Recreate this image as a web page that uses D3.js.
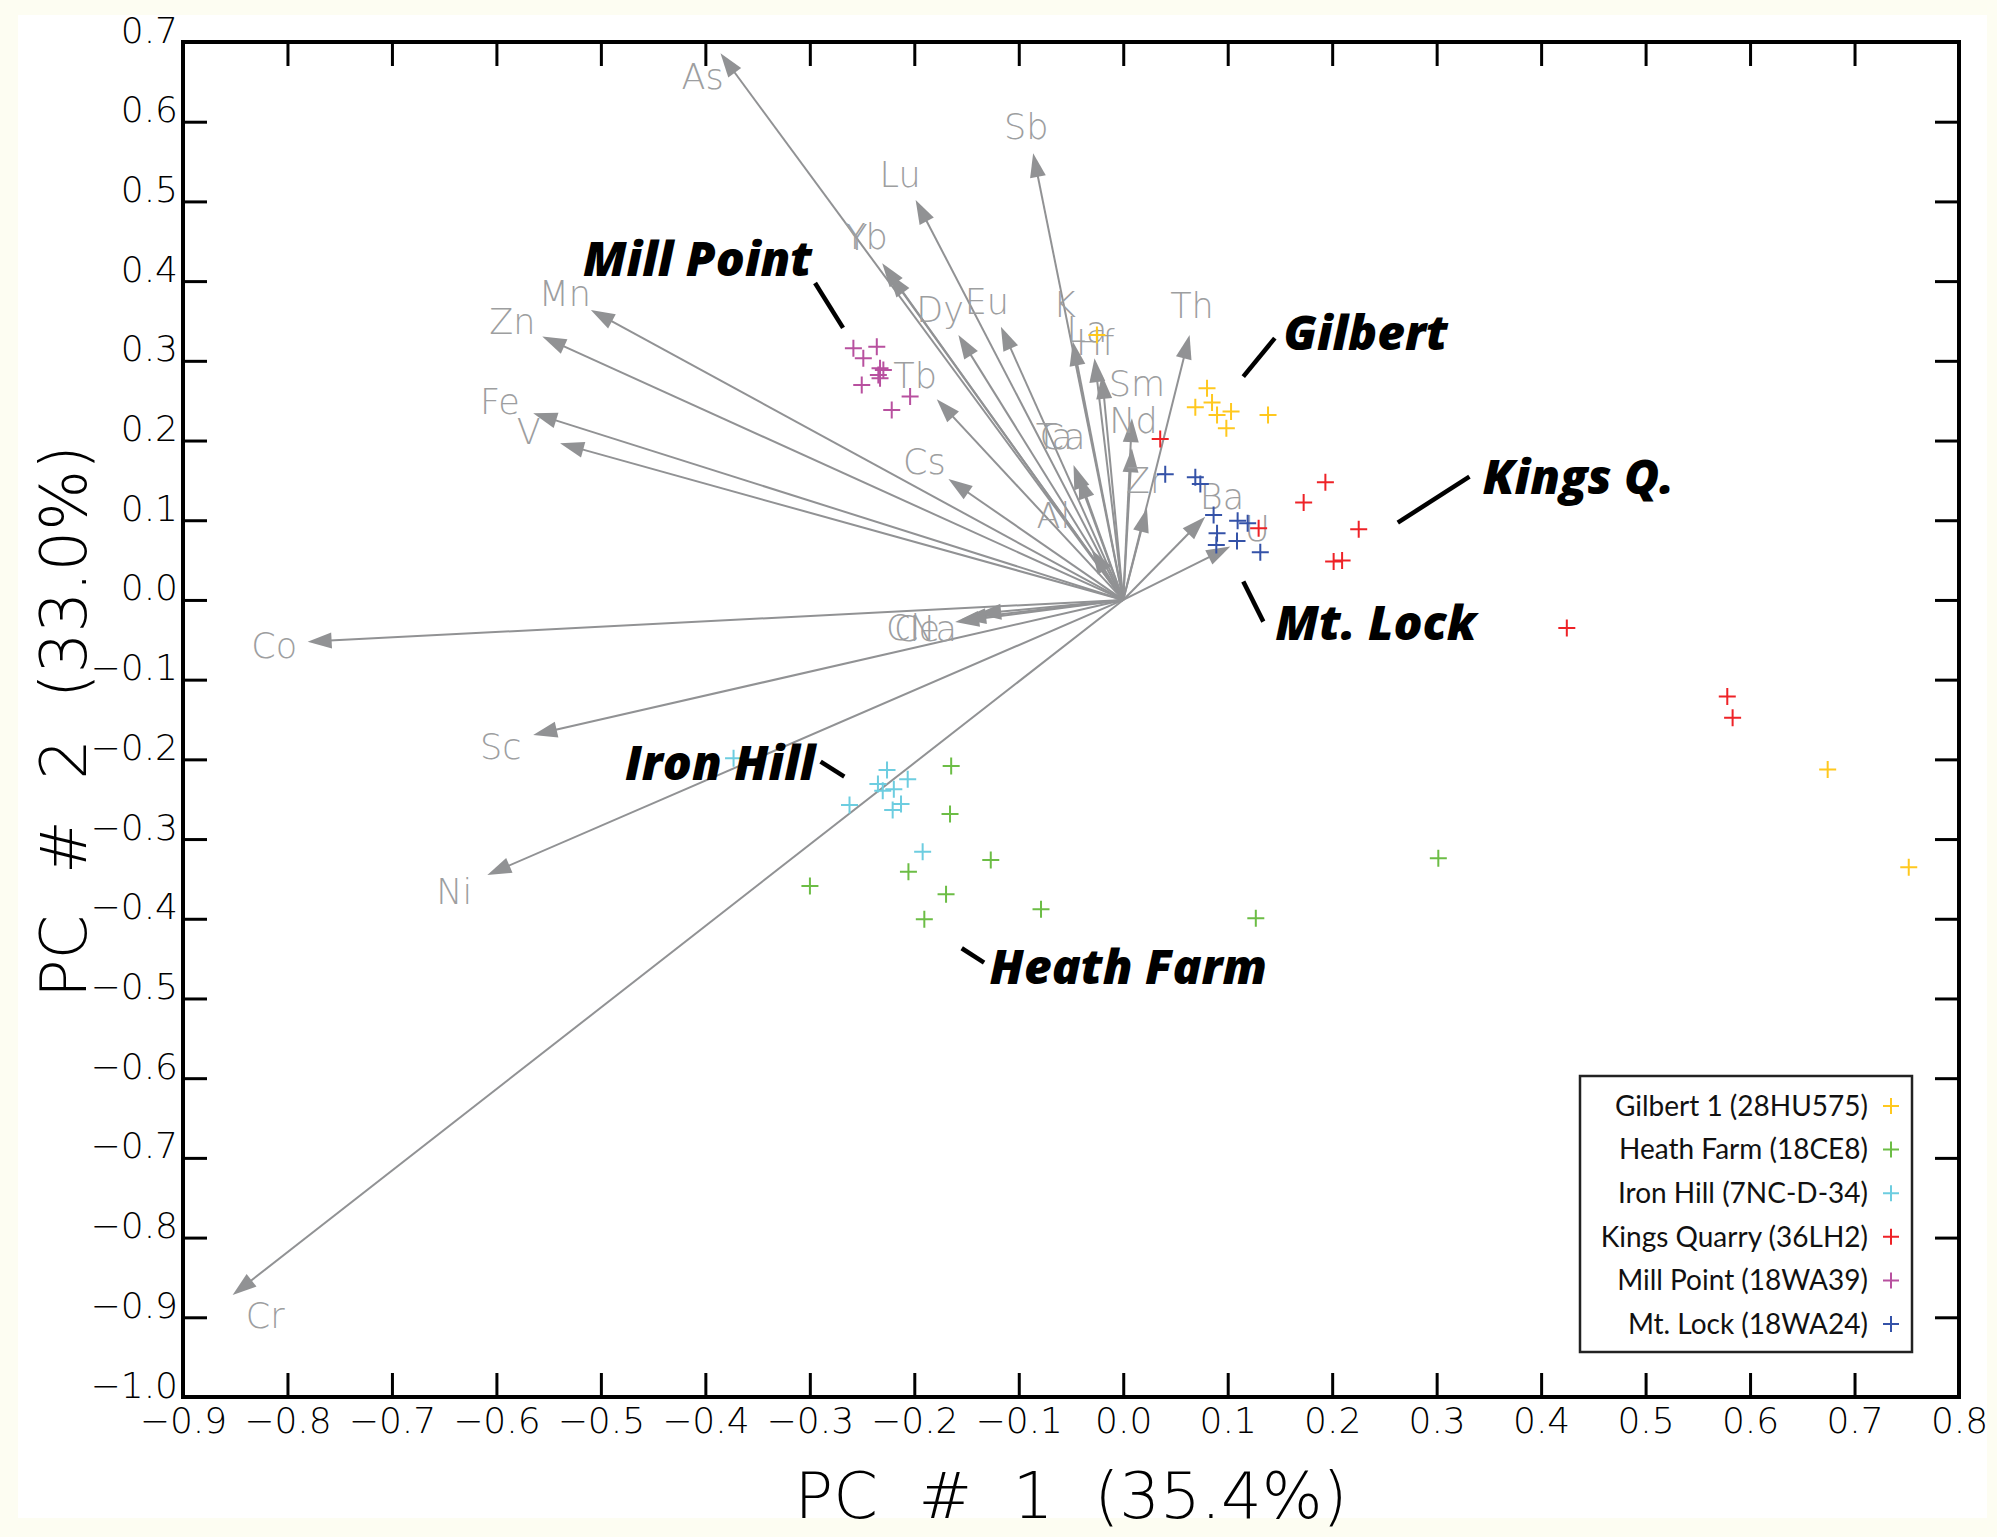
<!DOCTYPE html>
<html><head><meta charset="utf-8">
<script src="https://cdn.jsdelivr.net/npm/d3@7"></script>
<style>
html,body{margin:0;padding:0;background:#fdfdf2;}
svg{display:block;}
</style></head><body>
<svg id="chart" width="1997" height="1537"></svg>
<script>
// ---------------- DATA ----------------
const xTicks = [-0.9,-0.8,-0.7,-0.6,-0.5,-0.4,-0.3,-0.2,-0.1,0.0,0.1,0.2,0.3,0.4,0.5,0.6,0.7,0.8];
const yTicks = [0.7,0.6,0.5,0.4,0.3,0.2,0.1,0.0,-0.1,-0.2,-0.3,-0.4,-0.5,-0.6,-0.7,-0.8,-0.9,-1.0];
const xTitle = "PC  #  1  (35.4%)";
const yTitle = "PC  #  2  (33.0%)";

const siteNames = ["Gilbert 1 (28HU575)","Heath Farm (18CE8)","Iron Hill (7NC-D-34)","Kings Quarry (36LH2)","Mill Point (18WA39)","Mt. Lock (18WA24)"];

const gilbertPC1 = [0.0802,0.0690,0.0850,0.0898,0.1032,0.0987,0.1386,-0.0252,0.6743,0.7519];
const gilbertPC2 = [0.2656,0.2418,0.2476,0.2321,0.2363,0.2154,0.2321,0.3325,-0.2127,-0.3354];
const heathPC1 = [-0.1647,-0.1658,-0.1268,-0.2056,-0.2999,-0.1696,-0.0787,-0.1904,0.1269,0.3016];
const heathPC2 = [-0.2083,-0.2685,-0.3262,-0.3409,-0.3588,-0.3693,-0.3881,-0.4006,-0.3994,-0.3242];
const ironPC1 = [-0.3730,-0.2261,-0.2063,-0.2348,-0.2196,-0.2302,-0.2620,-0.2127,-0.2207,-0.1920];
const ironPC2 = [-0.1986,-0.2133,-0.2250,-0.2309,-0.2375,-0.2393,-0.2572,-0.2560,-0.2635,-0.3158];
const kingsPC1 = [0.0354,0.1935,0.1727,0.2254,0.1296,0.2014,0.2095,0.4246,0.5782,0.5833];
const kingsPC2 = [0.2020,0.1476,0.1221,0.0887,0.0900,0.0481,0.0494,-0.0353,-0.1213,-0.1478];
const millPC1 = [-0.2583,-0.2359,-0.2488,-0.2328,-0.2296,-0.2344,-0.2328,-0.2503,-0.2040,-0.2216];
const millPC2 = [0.3158,0.3178,0.3033,0.2907,0.2886,0.2823,0.2782,0.2698,0.2551,0.2384];
const lockPC1 = [0.0402,0.0690,0.0738,0.0865,0.1095,0.1191,0.0898,0.1089,0.0891,0.1312];
const lockPC2 = [0.1577,0.1539,0.1455,0.1066,0.0995,0.0962,0.0837,0.0740,0.0690,0.0598];

const elements = ["As","Sb","Lu","Yb","Y","Dy","Eu","K","La","Hf","Sm","Nd","Zr","Th","Ta","Ca","Al","Ba","U","Cs","Tb","Mn","Zn","Fe","V","Co","Sc","Ni","Cr","Cl","Ce","Na"];
const loadPC1 = [-0.3855,-0.0862,-0.1987,-0.2307,-0.2243,-0.1578,-0.1171,-0.0482,-0.0275,-0.0204,0.0083,0.0083,0.0227,0.0635,-0.0476,-0.0428,-0.0300,0.0785,0.1025,-0.1673,-0.1785,-0.5096,-0.5561,-0.5648,-0.5391,-0.7807,-0.5648,-0.6087,-0.8525,-0.1609,-0.1542,-0.1398];
const loadPC2 = [0.6858,0.5605,0.5019,0.4225,0.4099,0.3325,0.3429,0.3241,0.3033,0.2823,0.2280,0.1903,0.1151,0.3325,0.1694,0.1568,0.0627,0.1045,0.0669,0.1518,0.2518,0.3639,0.3304,0.2343,0.1966,-0.0523,-0.1694,-0.3450,-0.8720,-0.0276,-0.0238,-0.0176];

// ---------------- LAYOUT (label placement, in data units) ----------------
const labelPlace = {
  As:[-0.4026,0.6568], Sb:[-0.0929,0.5947], Lu:[-0.2136,0.5333], Yb:[-0.2462,0.4558], Y:[-0.2550,0.4548],
  Dy:[-0.1753,0.3639], Eu:[-0.1306,0.3743], K:[-0.0562,0.3714], La:[-0.0348,0.3388], Hf:[-0.0268,0.3225],
  Sm:[0.0131,0.2719], Nd:[0.0099,0.2258], Zr:[0.0211,0.1506], Th:[0.0658,0.3701], Ta:[-0.0661,0.2049],
  Ca:[-0.0581,0.2049], Al:[-0.0668,0.1066], Ba:[0.0945,0.1305], U:[0.1281,0.0900], Cs:[-0.1903,0.1735],
  Tb:[-0.1992,0.2823], Mn:[-0.5345,0.3848], Zn:[-0.5848,0.3492], Fe:[-0.5967,0.2488], V:[-0.5690,0.2112],
  Co:[-0.8127,-0.0565], Sc:[-0.5959,-0.1841], Ni:[-0.6404,-0.3660], Cr:[-0.8213,-0.8971],
  Cl:[-0.2107,-0.0339], Ce:[-0.1973,-0.0351], Na:[-0.1820,-0.0351]
};
const annotations = [
  {text:"Mill Point", at:[-0.5172,0.4065], leader:[[-0.2950,0.3977],[-0.2682,0.3413]]},
  {text:"Gilbert",    at:[0.1533,0.3137],   leader:[[0.1149,0.2802],[0.1451,0.3284]]},
  {text:"Kings Q.",   at:[0.3439,0.1330],   leader:[[0.2628,0.0970],[0.3314,0.1547]]},
  {text:"Mt. Lock",   at:[0.1456,-0.0502],  leader:[[0.1149,0.0230],[0.1341,-0.0272]]},
  {text:"Iron Hill",  at:[-0.4770,-0.2258], leader:[[-0.2897,-0.2029],[-0.2670,-0.2217]]},
  {text:"Heath Farm", at:[-0.1279,-0.4818], leader:[[-0.1546,-0.4370],[-0.1332,-0.4551]]}
];
const siteColors = ["#ffc81e","#6cbd45","#6dcde0","#ee2227","#b8509f","#3452a8"];

// ---------------- DRAW ----------------
const svg = d3.select("#chart");
svg.append("rect").attr("x",18).attr("y",15).attr("width",1969).attr("height",1503).attr("fill","#ffffff");

const x = d3.scaleLinear().domain([-0.9,0.8]).range([183,1959]);
const y = d3.scaleLinear().domain([-1.0,0.7]).range([1397,42]);
const fmt = d3.format(".1f");
const tickFont = "'DejaVu Sans', sans-serif";

function styleAxis(g){
  g.select(".domain").remove();
  g.attr("font-family", tickFont).attr("font-size", 36).attr("font-weight", 300);
  g.selectAll(".tick line").attr("stroke","#000").attr("stroke-width",3);
  g.selectAll(".tick text").attr("fill","#000");
}
const gB = svg.append("g").attr("transform",`translate(0,${y(-1.0)})`)
  .call(d3.axisBottom(x).tickValues(xTicks).tickFormat(fmt).tickSizeInner(-24).tickSizeOuter(0).tickPadding(10));
styleAxis(gB);
const gT = svg.append("g").attr("transform",`translate(0,${y(0.7)})`)
  .call(d3.axisTop(x).tickValues(xTicks).tickFormat(()=>"").tickSizeInner(-24).tickSizeOuter(0));
styleAxis(gT);
const gL = svg.append("g").attr("transform",`translate(${x(-0.9)},0)`)
  .call(d3.axisLeft(y).tickValues(yTicks).tickFormat(fmt).tickSizeInner(-24).tickSizeOuter(0).tickPadding(5));
styleAxis(gL);
gL.selectAll(".tick text").attr("dy","0");
const gR = svg.append("g").attr("transform",`translate(${x(0.8)},0)`)
  .call(d3.axisRight(y).tickValues(yTicks).tickFormat(()=>"").tickSizeInner(-24).tickSizeOuter(0));
styleAxis(gR);

// frame
svg.append("rect").attr("x",x(-0.9)).attr("y",y(0.7))
  .attr("width",x(0.8)-x(-0.9)).attr("height",y(-1.0)-y(0.7))
  .attr("fill","none").attr("stroke","#000").attr("stroke-width",4);

// axis titles
svg.append("text").attr("x",1071).attr("y",1518)
  .attr("text-anchor","middle").attr("font-family",tickFont).attr("font-weight",300)
  .attr("font-size",64).attr("fill","#000").style("white-space","pre").text(xTitle);
svg.append("text").attr("transform",`translate(86,${(y(0.7)+y(-1.0))/2 + 2}) rotate(-90)`)
  .attr("text-anchor","middle").attr("font-family",tickFont).attr("font-weight",300)
  .attr("font-size",64).attr("fill","#000").style("white-space","pre").text(yTitle);

// loadings arrows
const loadings = elements.map((e,i)=>({name:e, pc1:loadPC1[i], pc2:loadPC2[i]}));
const arrowG = svg.append("g");
const ox = x(0), oy = y(0);
const headL = 24, headW = 8;
loadings.forEach(d=>{
  const tx = x(d.pc1), ty = y(d.pc2);
  const dx = tx-ox, dy = ty-oy, len = Math.hypot(dx,dy);
  const ux = dx/len, uy = dy/len;
  const bx = tx-ux*headL, by = ty-uy*headL;
  arrowG.append("line").attr("x1",ox).attr("y1",oy).attr("x2",bx+ux*2).attr("y2",by+uy*2)
    .attr("stroke","#919294").attr("stroke-width",2);
  arrowG.append("path")
    .attr("d",`M${tx},${ty}L${bx - uy*headW},${by + ux*headW}L${bx + uy*headW},${by - ux*headW}Z`)
    .attr("fill","#919294");
});
const labG = svg.append("g").attr("font-family",tickFont).attr("font-weight",300)
  .attr("font-size",35).attr("fill","#9d9ea0").attr("text-anchor","middle");
loadings.forEach(d=>{
  const p = labelPlace[d.name];
  labG.append("text").attr("x",x(p[0])).attr("y",y(p[1])).attr("dy","0.36em").text(d.name);
});

// sample points
const series = [
  [gilbertPC1,gilbertPC2],[heathPC1,heathPC2],[ironPC1,ironPC2],
  [kingsPC1,kingsPC2],[millPC1,millPC2],[lockPC1,lockPC2]
];
const plus = (cx,cy,s)=>`M${cx-s},${cy}H${cx+s}M${cx},${cy-s}V${cy+s}`;
const ptG = svg.append("g");
series.forEach((s,k)=>{
  s[0].forEach((v,i)=>{
    ptG.append("path").attr("d",plus(x(v),y(s[1][i]),8.5))
      .attr("stroke",siteColors[k]).attr("stroke-width",2).attr("fill","none");
  });
});

// annotations
const annG = svg.append("g").attr("font-family","'Open Sans', Lato, sans-serif")
  .attr("font-weight",800).attr("font-style","italic").attr("font-size",48).attr("fill","#000");
annotations.forEach(a=>{
  annG.append("text").attr("x",x(a.at[0])).attr("y",y(a.at[1])).text(a.text);
  annG.append("line").attr("x1",x(a.leader[0][0])).attr("y1",y(a.leader[0][1]))
    .attr("x2",x(a.leader[1][0])).attr("y2",y(a.leader[1][1]))
    .attr("stroke","#000").attr("stroke-width",4.5);
});

// legend
const lg = svg.append("g");
lg.append("rect").attr("x",1580).attr("y",1076).attr("width",332).attr("height",276)
  .attr("fill","#fff").attr("stroke","#222").attr("stroke-width",2.5);
siteNames.forEach((n,i)=>{
  const ry = 1106 + i*43.6;
  lg.append("text").attr("x",1868).attr("y",ry).attr("dy","0.35em").attr("text-anchor","end")
    .attr("font-family","Lato, 'Open Sans', sans-serif").attr("font-size",28).attr("fill","#111").text(n);
  lg.append("path").attr("d",plus(1891,ry,8)).attr("stroke",siteColors[i]).attr("stroke-width",2).attr("fill","none");
});
</script>
</body></html>
